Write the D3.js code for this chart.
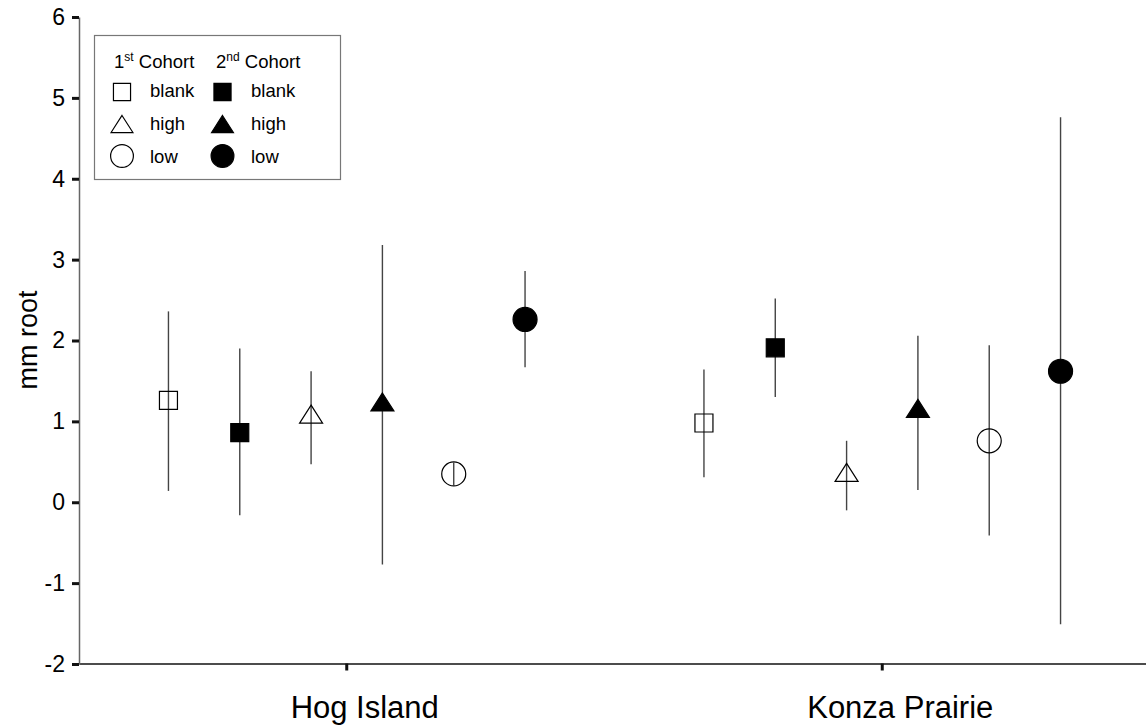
<!DOCTYPE html>
<html>
<head>
<meta charset="utf-8">
<script src="https://cdn.jsdelivr.net/npm/d3@7"></script>
<style>
  body { margin: 0; background: #fff; }
  svg { display: block; font-family: "Liberation Sans", Arial, sans-serif; }
</style>
</head>
<body>
<svg id="chart" width="1146" height="725"></svg>
<script>
// data
const sites = ["Hog Island", "Konza Prairie"];
const groups = ["1-blank", "2-blank", "1-high", "2-high", "1-low", "2-low"];
const groupCohort = [1, 2, 1, 2, 1, 2];
const groupShape = ["square", "square", "triangle", "triangle", "circle", "circle"];

const hogMean = [1.26, 0.86, 1.09, 1.24, 0.35, 2.26];
const hogLow = [0.14, -0.16, 0.47, -0.77, 0.21, 1.67];
const hogHigh = [2.36, 1.90, 1.62, 3.18, 0.49, 2.86];

const konzaMean = [0.98, 1.91, 0.37, 1.16, 0.76, 1.62];
const konzaLow = [0.31, 1.30, -0.10, 0.15, -0.41, -1.51];
const konzaHigh = [1.64, 2.52, 0.76, 2.06, 1.94, 4.76];

const yTicks = [-2, -1, 0, 1, 2, 3, 4, 5, 6];
const legendTreatments = ["blank", "high", "low"];
const legendShapes = ["square", "triangle", "circle"];

// tabla de puntos
const rows = [];
[[hogMean, hogLow, hogHigh], [konzaMean, konzaLow, konzaHigh]].forEach((s, si) => {
    groups.forEach((g, gi) => {
        rows.push({
            site: sites[si], group: g, shape: groupShape[gi],
            filled: groupCohort[gi] === 2,
            mean: s[0][gi], low: s[1][gi], high: s[2][gi]
        });
    });
});

const svg = d3.select("#chart");

const y = d3.scaleLinear().domain([-2, 6]).range([664, 17]);
const x = d3.scaleBand().domain(sites).range([79, 1150]);
const xi = d3.scalePoint().domain(groups).range([-178.3, 178.3]);

// axes
const xAxis = svg.append("g")
    .attr("transform", "translate(0,663.5)")
    .call(d3.axisBottom(x).tickSize(7).tickSizeOuter(0));
xAxis.select(".domain").attr("stroke", "#111").attr("stroke-width", 1.3);
xAxis.selectAll(".tick line").attr("stroke", "#111").attr("stroke-width", 3);
xAxis.selectAll(".tick text")
    .attr("y", 54.5).attr("dy", 0).attr("dx", 18)
    .attr("font-size", 31).attr("fill", "#000")
    .attr("font-family", "'Liberation Sans', Arial, sans-serif");

const yAxis = svg.append("g")
    .attr("transform", "translate(79,0)")
    .call(d3.axisLeft(y).tickValues(yTicks).tickSize(7).tickPadding(7).tickSizeOuter(0)
        .tickFormat(d => String(d)));
yAxis.select(".domain").attr("stroke", "#666").attr("stroke-width", 1.5);
yAxis.selectAll(".tick line").attr("stroke", "#111").attr("stroke-width", 3);
yAxis.selectAll(".tick text")
    .attr("font-size", 23).attr("fill", "#000")
    .attr("font-family", "'Liberation Sans', Arial, sans-serif");

svg.append("text")
    .attr("transform", "translate(37,340) rotate(-90)")
    .attr("text-anchor", "middle")
    .attr("font-size", 27)
    .text("mm root");

// marcadores
function drawSymbol(g, shape, filled, k) {
    const fill = filled ? "#000" : "none";
    if (shape === "circle") {
        g.append("circle").attr("r", 12 * k)
            .attr("fill", fill).attr("stroke", "#000").attr("stroke-width", 1.2);
    } else if (shape === "square") {
        const h = 9 * k;
        g.append("path").attr("d", `M${-h},${-h}H${h}V${h}H${-h}Z`)
            .attr("fill", fill).attr("stroke", "#000").attr("stroke-width", 1.2);
    } else {
        const w = 11.5 * k, h = 9 * k;
        g.append("path").attr("d", `M0,${-h}L${w},${h}L${-w},${h}Z`)
            .attr("fill", fill).attr("stroke", "#000").attr("stroke-width", 1.2);
    }
}

const plot = svg.append("g");

plot.selectAll("line.err")
    .data(rows)
    .join("line")
    .attr("class", "err")
    .attr("x1", d => x(d.site) + x.bandwidth() / 2 + xi(d.group))
    .attr("x2", d => x(d.site) + x.bandwidth() / 2 + xi(d.group))
    .attr("y1", d => y(d.low))
    .attr("y2", d => y(d.high))
    .attr("stroke", "#444")
    .attr("stroke-width", 1.4);

plot.selectAll("g.pt")
    .data(rows)
    .join("g")
    .attr("class", "pt")
    .attr("transform", d => `translate(${x(d.site) + x.bandwidth() / 2 + xi(d.group)},${y(d.mean)})`)
    .each(function (d) { drawSymbol(d3.select(this), d.shape, d.filled, 1); });

// leyenda
const legend = svg.append("g");
legend.append("rect")
    .attr("x", 94.5).attr("y", 35.5).attr("width", 246).attr("height", 144)
    .attr("fill", "#fff").attr("stroke", "#777").attr("stroke-width", 1.2);

const head = legend.append("text").attr("font-size", 18.5).attr("y", 68);
head.append("tspan").attr("x", 114).text("1");
head.append("tspan").attr("font-size", 12).attr("dy", -7).text("st");
head.append("tspan").attr("dy", 7).text(" Cohort");
const head2 = legend.append("text").attr("font-size", 18.5).attr("y", 68);
head2.append("tspan").attr("x", 216).text("2");
head2.append("tspan").attr("font-size", 12).attr("dy", -7).text("nd");
head2.append("tspan").attr("dy", 7).text(" Cohort");

const rowY = d3.scalePoint().domain(legendTreatments).range([92, 156]);
const textY = d3.scalePoint().domain(legendTreatments).range([97, 163]);
[1, 2].forEach((c, ci) => {
    const sx = ci === 0 ? 122 : 222.5;
    const tx = ci === 0 ? 150 : 251;
    legendTreatments.forEach((t, ti) => {
        const g = legend.append("g").attr("transform", `translate(${sx},${rowY(t)})`);
        drawSymbol(g, legendShapes[ti], c === 2, 0.95);
        legend.append("text")
            .attr("x", tx).attr("y", textY(t))
            .attr("font-size", 18.5)
            .text(t);
    });
});
</script>
</body>
</html>
